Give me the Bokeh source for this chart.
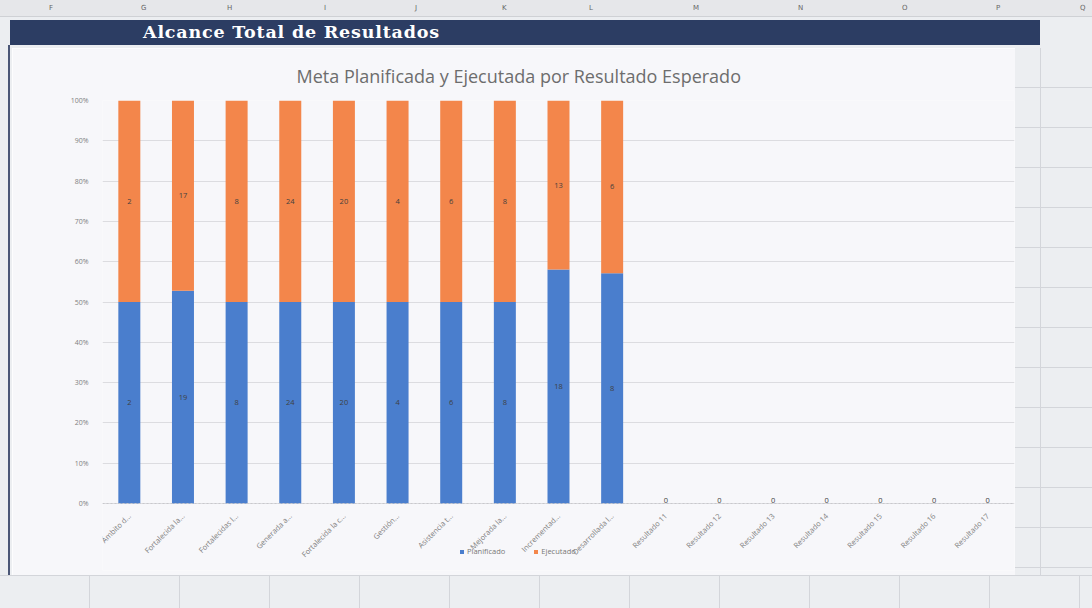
import numpy as np
from bokeh.plotting import figure
from bokeh.models import (ColumnDataSource, Legend, LegendItem, NumeralTickFormatter, Div,
                          CDSView, BooleanFilter, Range1d)
from bokeh.layouts import column, row
from bokeh.embed import file_html
from bokeh.resources import INLINE
from bokeh.core.properties import value

# ---------------- data ----------------
categories = [
    "Ámbito d...", "Fortalecida la...", "Fortalecidas l...", "Generada a...",
    "Fortalecida la c...", "Gestión...", "Asistencia t...", "Mejorada la...",
    "Incrementad...", "Desarrollada l...",
    "Resultado 11", "Resultado 12", "Resultado 13", "Resultado 14",
    "Resultado 15", "Resultado 16", "Resultado 17",
]
planificado = [2, 19, 8, 24, 20, 4, 6, 8, 18, 8, 0, 0, 0, 0, 0, 0, 0]
ejecutado = [2, 17, 8, 24, 20, 4, 6, 8, 13, 6, 0, 0, 0, 0, 0, 0, 0]
y_ticks = [0.0, 0.1, 0.2, 0.3, 0.4, 0.5, 0.6, 0.7, 0.8, 0.9, 1.0]
series_names = ["Planificado", "Ejecutado"]
col_letters = ["F", "G", "H", "I", "J", "K", "L", "M", "N", "O", "P", "Q"]
col_letter_x = [52, 144, 230, 327, 418, 505, 592, 696, 801, 905, 999, 1083]

BLUE = "#4a7ecd"
ORANGE = "#f3864b"
BG = "#f7f7fa"
SHEET = "#eceef1"
GRIDC = "#d3d5da"

plan = np.array(planificado, dtype=float)
ejec = np.array(ejecutado, dtype=float)
tot = plan + ejec
pf = np.divide(plan, tot, out=np.zeros_like(plan), where=tot > 0)
ef = np.divide(ejec, tot, out=np.zeros_like(ejec), where=tot > 0)

src = ColumnDataSource(dict(
    cat=categories, p=pf, e=ef,
    p_mid=pf / 2, e_mid=pf + ef / 2,
    p_txt=[str(v) for v in planificado],
    e_txt=[str(v) for v in ejecutado],
))
nonzero = CDSView(filter=BooleanFilter([bool(t > 0) for t in tot]))
zero = CDSView(filter=BooleanFilter([bool(t == 0) for t in tot]))

# ---------------- chart ----------------
# frame spans from the 100% line down to just above the sheet cells;
# the 0% baseline sits inside it so axis labels and legend share that space
p = figure(x_range=categories, y_range=Range1d(-0.166, 1.0), width=1003, height=527,
           output_backend="svg", toolbar_location=None,
           min_border_left=90, min_border_right=1,
           min_border_top=52, min_border_bottom=5)

rs = p.vbar_stack(["p", "e"], x="cat", width=0.41, color=[BLUE, ORANGE],
                  line_color=None, source=src)

for ycol, tcol in (("p_mid", "p_txt"), ("e_mid", "e_txt")):
    p.text(x="cat", y=ycol, text=tcol, source=src, view=nonzero,
           text_font_size="7.5px", text_color="#404040", text_align="center",
           text_baseline="middle", text_font=value("Open Sans"))
p.text(x="cat", y="p_mid", text="p_txt", source=src, view=zero,
       text_font_size="7.5px", text_color="#404040", text_align="center",
       text_baseline="bottom", y_offset=-1, text_font=value("Open Sans"))

p.title.text = "Meta Planificada y Ejecutada por Resultado Esperado"
p.title.align = "left"
p.title.offset = 194
p.title.standoff = 26
p.title.text_font = "Open Sans"
p.title.text_font_size = "18px"
p.title.text_font_style = "normal"
p.title.text_color = "#6d6d6d"

p.xaxis.fixed_location = 0
p.xaxis.major_label_orientation = np.pi / 4
p.xaxis.major_label_text_font_size = "7.5px"
p.xaxis.major_label_text_color = "#808080"
p.xaxis.major_label_text_font = "Open Sans"
p.xaxis.axis_line_color = "#c8c8cc"
p.xaxis.axis_line_dash = "2 2"
p.xaxis.major_tick_line_color = None
p.xaxis.minor_tick_line_color = None

p.yaxis.ticker = y_ticks
p.yaxis.formatter = NumeralTickFormatter(format="0%")
p.yaxis.major_label_text_font_size = "7px"
p.yaxis.major_label_text_color = "#808080"
p.yaxis.major_label_text_font = "Open Sans"
p.yaxis.axis_line_color = None
p.yaxis.major_tick_line_color = None
p.yaxis.minor_tick_line_color = None
p.yaxis.major_label_standoff = 8

p.ygrid.grid_line_color = "#dcdce0"
p.xgrid.grid_line_color = None
p.outline_line_color = None
p.background_fill_color = BG
p.border_fill_color = BG

legend = Legend(items=[LegendItem(label=series_names[0], renderers=[rs[0]]),
                       LegendItem(label=series_names[1], renderers=[rs[1]])],
                orientation="horizontal", location=(357, 14),
                label_text_font_size="7.5px", label_text_color="#777777",
                label_text_font="Open Sans",
                glyph_width=5, glyph_height=5, label_standoff=3, spacing=28,
                background_fill_alpha=0, border_line_alpha=0, padding=0, margin=0)
p.add_layout(legend, "center")

# ---------------- spreadsheet decoration ----------------
letters_html = "".join(
    f'<span style="position:absolute;left:{x - 3}px;top:4px;font:7px \'DejaVu Sans\';color:#666;">{l}</span>'
    for l, x in zip(col_letters, col_letter_x))
top_html = (
    f'<div style="position:relative;width:1092px;height:48px;background:{SHEET};">'
    '<div style="position:absolute;left:0;top:0;width:1092px;height:17px;background:#e6e7ea;'
    'border-bottom:1px solid #cfd1d5;">' + letters_html + '</div>'
    '<div style="position:absolute;left:10px;top:20px;width:1030px;height:25px;background:#2c3d63;'
    'color:#ffffff;font-family:\'DejaVu Serif\';font-weight:bold;font-size:17.5px;letter-spacing:0.8px;'
    'line-height:25px;padding-left:133px;box-sizing:border-box;">Alcance Total de Resultados</div>'
    '<div style="position:absolute;left:8px;top:45px;width:2px;height:3px;background:#4a5676;"></div>'
    '</div>'
)
top_div = Div(text=top_html, width=1092, height=48, margin=0)

left_div = Div(
    text=f'<div style="width:12px;height:527px;background:{SHEET};position:relative;">'
         '<div style="position:absolute;left:8px;top:0;width:2px;height:527px;background:#4a5676;"></div></div>',
    width=12, height=527, margin=0)

right_div = Div(
    text=f'<div style="width:77px;height:527px;background-color:{SHEET};'
         f'background-image:repeating-linear-gradient(to bottom, transparent 0px, transparent 39px, {GRIDC} 39px, {GRIDC} 40px);'
         f'position:relative;"><div style="position:absolute;left:25px;top:0;width:1px;height:527px;background:{GRIDC};"></div></div>',
    width=77, height=527, margin=0)

bottom_div = Div(
    text=f'<div style="width:1092px;height:33px;background-color:{SHEET};'
         f'background-image:repeating-linear-gradient(to right, transparent 0px, transparent 89px, {GRIDC} 89px, {GRIDC} 90px);'
         f'border-top:1px solid {GRIDC};box-sizing:border-box;"></div>',
    width=1092, height=33, margin=0)

layout = column(top_div, row(left_div, p, right_div, spacing=0), bottom_div, spacing=0)

open("out.html", "w").write(file_html(layout, INLINE))
